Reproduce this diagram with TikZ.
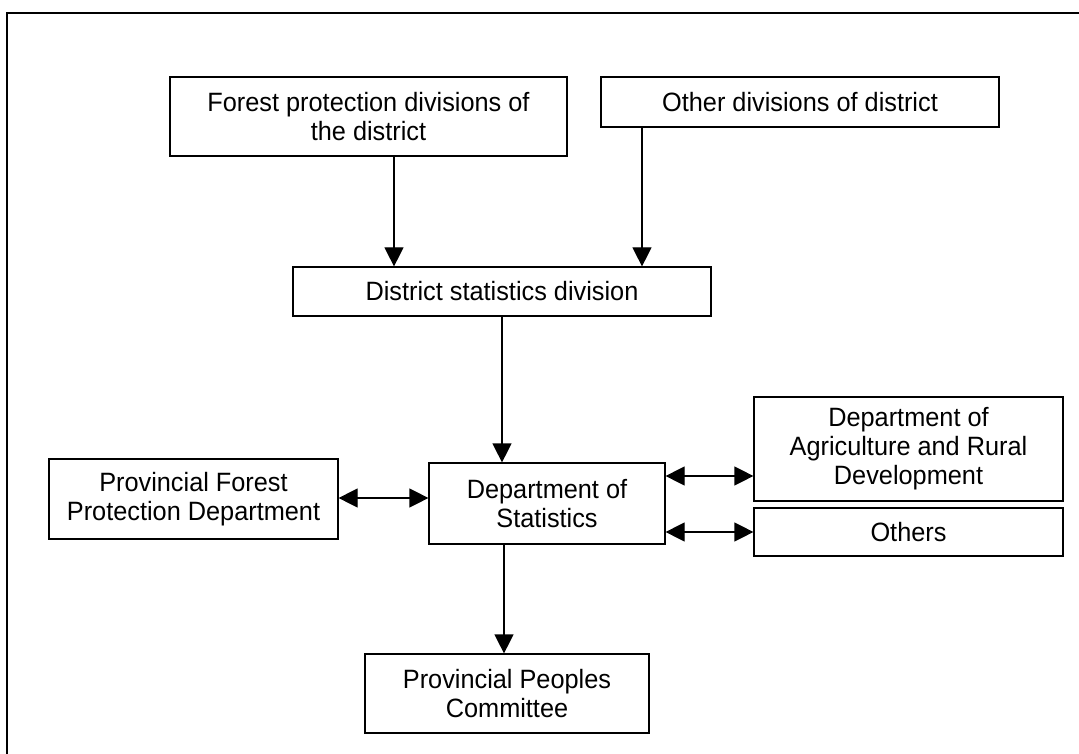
\documentclass[tikz,border=0pt]{standalone}
\usepackage{fontspec}
\setmainfont{Liberation Sans}[FakeStretch=0.955]
\usetikzlibrary{arrows.meta}
\tikzset{
box/.style={draw,line width=1.2pt,rectangle,align=center,inner sep=0pt,
  font=\fontsize{26.5}{29}\selectfont},
arr/.style={line width=1.2pt,-{Triangle[length=19pt,width=19pt]}},
dblarr/.style={line width=1.2pt,{Triangle[length=19pt,width=19pt]}-{Triangle[length=19pt,width=19pt]}}
}
\begin{document}
\begin{tikzpicture}[x=1pt,y=-1pt]
\useasboundingbox (0,0) rectangle (1079,754);
\draw[line width=2pt] (7,754)--(7,13)--(1079,13);

\node[box,minimum width=397pt,minimum height=79pt] (forest) at (368.5,116.5) {Forest protection divisions of\\the district};
\node[box,minimum width=398pt,minimum height=50pt] (other) at (800,102) {Other divisions of district};
\node[box,minimum width=418pt,minimum height=49pt] (dsd) at (502,291.5) {District statistics division};
\node[box,minimum width=236pt,minimum height=81pt] (stats) at (547,503.5) {Department of\\Statistics};
\node[box,minimum width=289pt,minimum height=80pt] (pfpd) at (193.5,499) {Provincial Forest\\Protection Department};
\node[box,minimum width=309pt,minimum height=104pt] (dard) at (908.5,449) {Department of\\Agriculture and Rural\\Development};
\node[box,minimum width=309pt,minimum height=48pt] (others) at (908.5,532) {Others};
\node[box,minimum width=284pt,minimum height=79pt] (ppc) at (507,693.5) {Provincial Peoples\\Committee};

\foreach \x/\n in {394/forest,642/other} {
\draw[arr] (\n.south -| \x,0) -- (dsd.north -| \x,0);
}
\draw[arr] (dsd.south) -- (stats.north -| dsd.south);
\draw[arr] (stats.south -| 504,0) -- (ppc.north -| 504,0);

\draw[dblarr] (pfpd.east |- 0,498) -- (stats.west |- 0,498);
\draw[dblarr] (stats.east |- 0,476) -- (dard.west |- 0,476);
\draw[dblarr] (stats.east |- others.west) -- (others.west);

\end{tikzpicture}
\end{document}
